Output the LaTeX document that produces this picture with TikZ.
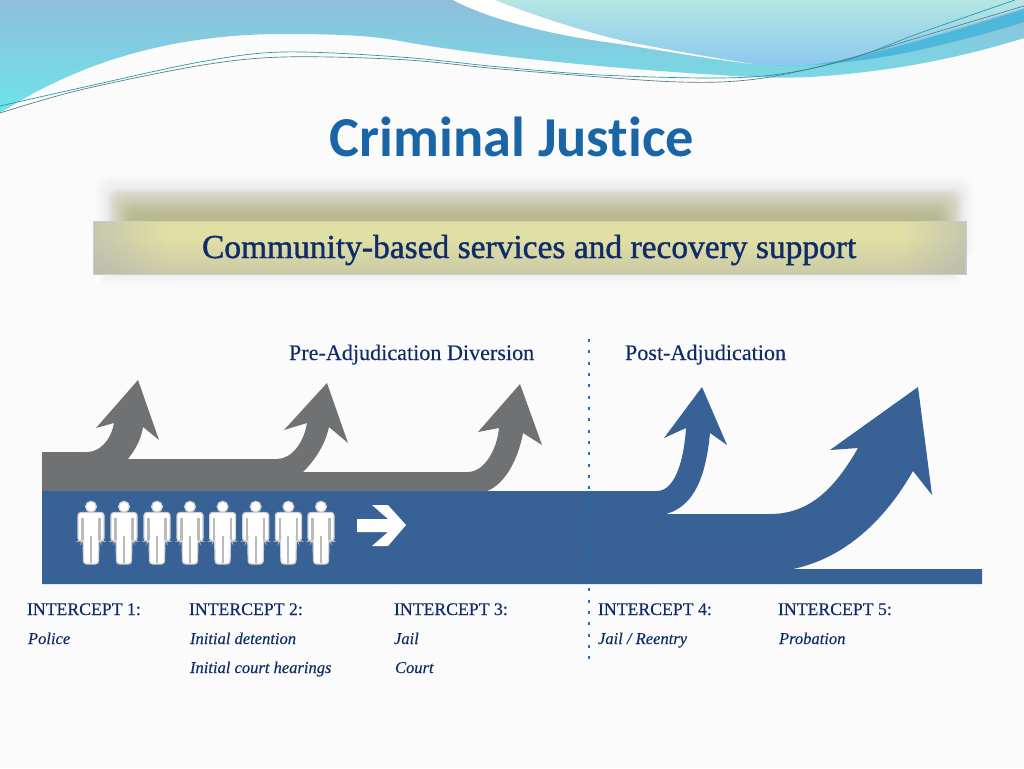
\documentclass[tikz,border=0pt]{standalone}
\usepackage{fontspec}
\setmainfont{Liberation Serif}
\newfontfamily\inkfont[FakeBold=0.25]{Liberation Serif}
\newfontfamily\bannerfont[FakeBold=1.2]{Liberation Serif}
\newfontfamily\titlefont[Ligatures=NoCommon]{Carlito}
\usetikzlibrary{fadings}
\definecolor{bgc}{HTML}{FBFBFB}
\definecolor{grayflow}{HTML}{6F7172}
\definecolor{blueflow}{HTML}{386296}
\definecolor{titleblue}{HTML}{1A65A6}
\definecolor{inkblue}{HTML}{0F2C6A}
\definecolor{dotblue}{HTML}{1B6FC0}
\definecolor{bandend}{HTML}{C5C7AE}
\definecolor{bandmid}{HTML}{E1E0A4}
\definecolor{glowolive}{HTML}{B8BA6E}
\definecolor{wavetop}{RGB}{143,190,219}
\definecolor{wavebot}{RGB}{110,228,232}
\definecolor{lighttop}{RGB}{180,230,228}
\definecolor{lightbot}{RGB}{138,200,238}
\definecolor{stripe}{RGB}{77,184,220}
\definecolor{tealline}{RGB}{30,150,165}
\definecolor{slateline}{RGB}{90,120,140}
\tikzset{
  every node/.style={inner sep=0pt,outer sep=0pt},
  bannertext/.style={anchor=base west,font=\bannerfont\fontsize{25.1}{28}\selectfont,text=inkblue},
  headtext/.style={anchor=base west,font=\inkfont\fontsize{16.6}{20}\selectfont,text=inkblue},
  capstext/.style={anchor=base west,font=\inkfont\fontsize{13.3}{16}\selectfont,text=inkblue},
  subtext/.style={anchor=base west,font=\inkfont\fontsize{12.4}{16}\selectfont\itshape,text=inkblue},
  fineline/.style={line width=.5pt},
  personskin/.style={fill=white,draw=black!18,line width=.9pt,rounded corners=2.2pt},
  personline/.style={draw=black!27,line width=1.6pt},
}
\newcommand{\personat}[1]{%
  \begin{scope}[shift={(#1,0)}]
    \path[personskin] (0,506.7) circle[radius=5.4];
    \path[personskin] (-13,512.5)--(13,512.5)--(13,541)--(9,541)--(8,538)--(7.4,564)--(-7.4,564)--(-8,538)--(-9,541)--(-13,541)--cycle;
    \draw[personline] (-8.5,518)--(-8.5,540) (8.5,518)--(8.5,540) (0,536)--(0,563);
  \end{scope}}
\begin{document}
\begin{tikzpicture}[x=.75pt,y=-.75pt]
\useasboundingbox (0,0) rectangle (1024,768);
\fill[bgc] (0,0) rectangle (1024,768);
% top waves
\shade[top color=wavetop,bottom color=wavebot]
  (0,0)--(1024,0)--(1024,38)
  .. controls (960,58) and (890,72) .. (810,77)
  .. controls (790,78) and (760,78) .. (720,75)
  .. controls (600,68) and (470,54) .. (400,41)
  .. controls (370,35) and (330,34) .. (283,34)
  .. controls (130,34) and (40,88) .. (0,113)--cycle;
\fill[white] (453,0) .. controls (495,22) and (560,36) .. (613,43)
  .. controls (660,50) and (715,60) .. (753,64) -- (700,20) -- (600,0) -- cycle;
\shade[top color=lighttop,bottom color=lightbot]
  (495,0) .. controls (530,14) and (590,34) .. (633,43)
  .. controls (670,50) and (715,58) .. (753,64)
  .. controls (780,67) and (810,66) .. (837,60)
  .. controls (900,46) and (970,24) .. (1024,8) -- (1024,0) -- cycle;
\fill[stripe] (775,65) .. controls (800,67) and (820,64) .. (837,61)
  .. controls (880,52) and (960,30) .. (1024,9) -- (1024,22)
  .. controls (990,33) and (920,52) .. (870,59) .. controls (850,62) and (830,64) .. (807,65) .. controls (795,66) and (785,66) .. (775,65) -- cycle;
\draw[fineline,draw=tealline] plot[smooth,tension=.55] coordinates {(0,106) (80,88) (200,62) (283,52) (400,57) (500,67) (600,75) (720,78) (787,73) (853,58) (920,33) (1015,0)};
\draw[fineline,draw=slateline] plot[smooth,tension=.55] coordinates {(0,113) (80,90) (200,65.5) (283,57) (400,59.5) (500,69) (600,77) (667,81.5) (720,82) (770,77) (837,62) (920,37) (1024,6)};
% title
\node[anchor=base,font=\titlefont\fontsize{42.3}{48}\selectfont\bfseries,text=titleblue] (title) at (512,156.5) {Criminal Justice};
% banner glow
\foreach \i in {0,...,24}{
  \fill[black!50,opacity=.01,rounded corners=9pt]
    ({96+1.5*\i},{176+1.6*\i}) rectangle ({974-1.5*\i},260);
}
\foreach \i in {0,...,29}{
  \fill[glowolive,opacity=.03,rounded corners=7pt]
    ({108+1*\i},{188+1.1*\i}) rectangle ({962-1*\i},260);
}
\foreach \i in {0,...,5}{
  \fill[black!50,opacity=.012] ({100+1.5*\i},270) rectangle ({960-1.5*\i},{285-1.8*\i});
}
\fill[bandmid] (170,221) rectangle (900,274);
\shade[left color=bandend,right color=bandmid] (93,221) rectangle (170.5,274);
\shade[left color=bandmid,right color=bandend] (899.5,221) rectangle (966,274);
\fill[black!32,path fading=north,opacity=.42] (93,238) rectangle (966,274);
\draw[black!20,line width=.4pt] (93,221) rectangle (966,274);
\node[bannertext] (banner) at (202,258) {Community-based services and recovery support};
% flows
\fill[grayflow] (42,452) -- (87,452)
  .. controls (100,452) and (111,440) .. (114,423) -- (96,428) -- (138,380) -- (159,440) -- (143,427)
  .. controls (141,440) and (135,450) .. (128,459) -- (277,459)
  .. controls (292,459) and (304,442) .. (307,423) -- (284,430) -- (327,383) -- (348,443) -- (329,427)
  .. controls (325,445) and (315,460) .. (303,472) -- (468,472)
  .. controls (484,472) and (497,450) .. (499,428) -- (478,432) -- (520,384) -- (542,445) -- (523,433)
  .. controls (518,460) and (505,484) .. (487,491) -- (42,491) -- cycle;
\fill[blueflow] (42,491) -- (657,491)
  .. controls (675,491) and (684,460) .. (686,428) -- (664,438) -- (702,387) -- (727,445) -- (710,433)
  .. controls (706,475) and (695,506) .. (666,514) -- (770,514)
  .. controls (810,514) and (835,488) .. (858,448) -- (830,450) -- (918,387) -- (932,495) -- (913,471)
  .. controls (885,520) and (845,558) .. (793,569) -- (982,569) -- (982,584) -- (42,584) -- cycle;
% people
\foreach \px in {91,124,157,190,222.6,255.7,288.4,321}{\personat{\px}}
% white arrow
\fill[white] (357,519) -- (388,519) -- (372,505) -- (388,505) -- (406,525) -- (388,546) -- (372,546) -- (388,532) -- (357,532) -- cycle;
% divider
\draw[dotblue,line width=2.2pt,dash pattern=on 2.3pt off 6.2pt] (589,339) -- (589,662);
% labels
\node[headtext] (pre) at (289,360) {Pre-Adjudication Diversion};
\node[headtext] (post) at (625,360) {Post-Adjudication};
\node[capstext] (i1) at (27,615) {INTERCEPT 1:};
\node[capstext] (i2) at (189,615) {INTERCEPT 2:};
\node[capstext] (i3) at (394,615) {INTERCEPT 3:};
\node[capstext] (i4) at (598,615) {INTERCEPT 4:};
\node[capstext] (i5) at (778,615) {INTERCEPT 5:};
\node[subtext] (s1) at (28,644) {Police};
\node[subtext] (s2) at (190,644) {Initial detention};
\node[subtext] (s2b) at (190,673) {Initial court hearings};
\node[subtext] (s3) at (394,644) {Jail};
\node[subtext] (s3b) at (395,673) {Court};
\node[subtext] (s4) at (598,644) {Jail / Reentry};
\node[subtext] (s5) at (779,644) {Probation};
\end{tikzpicture}
\end{document}
